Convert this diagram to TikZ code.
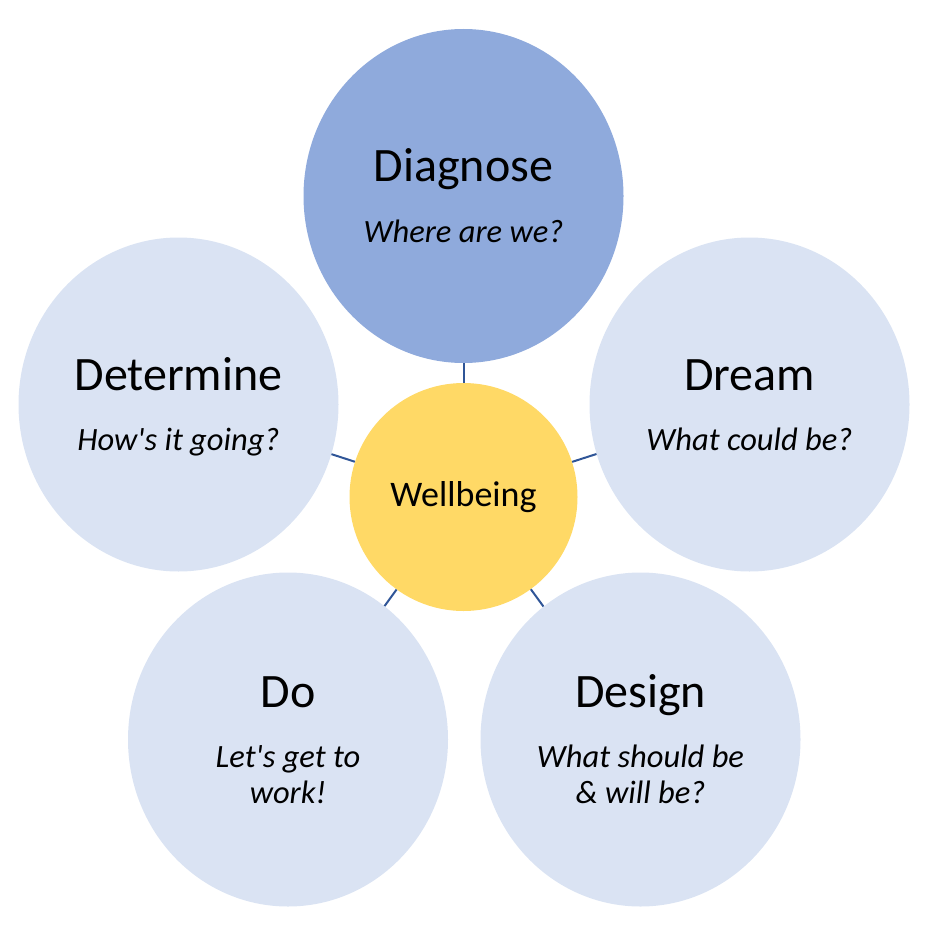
\documentclass[tikz,border=0pt]{standalone}
\usepackage{fontspec}
\setmainfont{Carlito}
\usetikzlibrary{shapes.geometric}

\definecolor{diagblue}{HTML}{8FAADC}
\definecolor{paleblue}{HTML}{DAE3F3}
\definecolor{wellgold}{HTML}{FFD966}
\definecolor{linkblue}{HTML}{2F5597}

\begin{document}
\begin{tikzpicture}[
    x=1pt, y=-1pt,
    phase/.style={ellipse, minimum width=320pt, minimum height=334pt, inner sep=0pt, fill=paleblue},
    hub/.style={circle, minimum size=228pt, inner sep=0pt, fill=wellgold, font=\fontsize{36}{43}\selectfont},
    ttl/.style={anchor=base, inner sep=0pt, font=\fontsize{48}{57}\selectfont},
    sub/.style={anchor=base, inner sep=0pt, font=\fontsize{32.5}{38}\selectfont\itshape},
    link/.style={draw=linkblue, line width=2pt},
]
    \useasboundingbox (0,0) rectangle (941,944);
    % the five phases round the hub
    \node[phase, fill=diagblue] (diag) at (463.5,196) {};
    \node[phase] (determ) at (178.5,404.5) {};
    \node[phase] (dream) at (749.5,404.5) {};
    \node[phase] (doit) at (288,739.5) {};
    \node[phase] (design) at (640.5,739.5) {};
    \node[hub] (hub) at (463.5,497) {Wellbeing};

    \node[ttl] (diagT) at (463.5,181.5) {Diagnose};
    \node[sub] (diagS) at (463.5,242) {Where are we?};
    \node[ttl] (determT) at (178.5,390) {Determine};
    \node[sub] (determS) at (178.5,450.5) {How\textquotesingle s it going?};
    \node[ttl] (dreamT) at (749.5,390) {Dream};
    \node[sub] (dreamS) at (749.5,450.5) {What could be?};
    \node[ttl] (doitT) at (288,707) {Do};
    \node[sub] (doitS1) at (288,767) {Let\textquotesingle s get to};
    \node[sub] (doitS2) at (288,803) {work!};
    \node[ttl] (designT) at (640.5,707) {Design};
    \node[sub] (designS1) at (640.5,767) {What should be};
    \node[sub] (designS2) at (640.5,803) {\& will be?};

    % short ties to the hub
    \draw[link] (diag) -- (hub);
    \draw[link] (determ) -- (hub);
    \draw[link] (dream) -- (hub);
    \draw[link] (doit) -- (hub);
    \draw[link] (design) -- (hub);
\end{tikzpicture}
\end{document}
